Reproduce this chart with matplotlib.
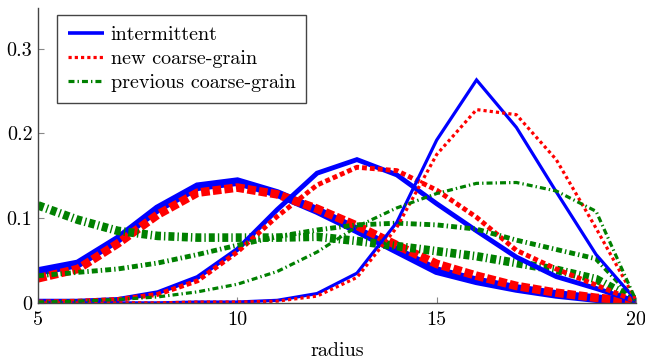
import matplotlib
matplotlib.use("Agg")
import matplotlib.pyplot as plt
from matplotlib.lines import Line2D

plt.rcParams['font.family'] = ['cmr10', 'DejaVu Serif']
plt.rcParams['axes.formatter.use_mathtext'] = True
plt.rcParams['lines.scale_dashes'] = False
plt.rcParams['lines.dash_capstyle'] = 'butt'
plt.rcParams['lines.solid_capstyle'] = 'butt'

radius = list(range(5, 21))

# thick group
int_wide = [0.037, 0.046, 0.075, 0.111, 0.137, 0.143, 0.129, 0.109, 0.086, 0.062, 0.038, 0.026, 0.017, 0.010, 0.005, 0.001]
new_wide = [0.029, 0.040, 0.070, 0.104, 0.130, 0.136, 0.128, 0.111, 0.091, 0.068, 0.046, 0.032, 0.020, 0.012, 0.006, 0.002]
prev_wide = [0.115, 0.098, 0.085, 0.079, 0.077, 0.077, 0.077, 0.078, 0.073, 0.067, 0.061, 0.055, 0.047, 0.039, 0.028, 0.003]
# medium group
int_mid = [0.002, 0.002, 0.004, 0.012, 0.030, 0.063, 0.110, 0.153, 0.169, 0.151, 0.117, 0.085, 0.054, 0.031, 0.017, 0.002]
new_mid = [0.001, 0.002, 0.004, 0.010, 0.026, 0.060, 0.102, 0.139, 0.160, 0.156, 0.133, 0.101, 0.062, 0.040, 0.021, 0.002]
prev_mid = [0.032, 0.036, 0.040, 0.047, 0.057, 0.068, 0.078, 0.086, 0.092, 0.094, 0.092, 0.087, 0.074, 0.063, 0.052, 0.003]
# thin group
int_thin = [0.0, 0.0, 0.0, 0.0, 0.001, 0.001, 0.003, 0.011, 0.035, 0.095, 0.192, 0.263, 0.207, 0.131, 0.057, 0.003]
new_thin = [0.0, 0.0, 0.0, 0.0, 0.001, 0.001, 0.002, 0.008, 0.030, 0.089, 0.175, 0.228, 0.222, 0.169, 0.088, 0.003]
prev_thin = [0.001, 0.002, 0.004, 0.007, 0.013, 0.022, 0.037, 0.060, 0.090, 0.112, 0.129, 0.141, 0.142, 0.132, 0.108, 0.003]

labels = ['intermittent', 'new coarse-grain', 'previous coarse-grain']
xticks = [5, 10, 15, 20]
yticks = [0, 0.1, 0.2, 0.3]
ytick_labels = ['0', '0.1', '0.2', '0.3']

BLUE = '#0000ff'
RED = '#ff0000'
GREEN = '#008000'

fig = plt.figure(figsize=(6.45, 3.58), dpi=100)
ax = fig.add_axes([0.059, 0.154, 0.927, 0.824])

groups = [
    (int_wide, new_wide, prev_wide, 6.2),
    (int_mid, new_mid, prev_mid, 3.5),
    (int_thin, new_thin, prev_thin, 2.3),
]
for b, r, g, lw in groups:
    ax.plot(radius, b, color=BLUE, lw=lw, solid_joinstyle='miter')
    ax.plot(radius, r, color=RED, lw=lw, dashes=(lw, 2.2))
    ax.plot(radius, g, color=GREEN, lw=lw, dashes=(4.3, 2.2, 1.0, 2.2))

handles = [
    Line2D([], [], color=BLUE, lw=2.6),
    Line2D([], [], color=RED, lw=2.3, dashes=(2.3, 2.2)),
    Line2D([], [], color=GREEN, lw=2.3, dashes=(4.3, 2.2, 1.0, 2.2)),
]
leg = ax.legend(handles, labels, loc='upper left', bbox_to_anchor=(0.032, 0.976),
                borderaxespad=0, fancybox=False, framealpha=1, edgecolor='#444444',
                fontsize=14.5, handlelength=1.75, handletextpad=0.35, labelspacing=0.3,
                borderpad=0.55)
leg.get_frame().set_linewidth(1.0)

ax.set_xlim(5, 20)
ax.set_ylim(0, 0.348)
ax.set_xticks(xticks)
ax.set_xticklabels([str(t) for t in xticks])
ax.set_yticks(yticks)
ax.set_yticklabels(ytick_labels)
for s in ['top', 'right']:
    ax.spines[s].set_visible(False)
for s in ['left', 'bottom']:
    ax.spines[s].set_color('#444444')
    ax.spines[s].set_linewidth(1.0)
ax.tick_params(direction='in', length=4, width=0.8, color='#888888', labelsize=14.5)
ax.tick_params(axis='x', pad=6)
ax.tick_params(axis='y', pad=4)
ax.set_xlabel('radius', fontsize=14.5, labelpad=9)

fig.savefig('out.png', dpi=100)
